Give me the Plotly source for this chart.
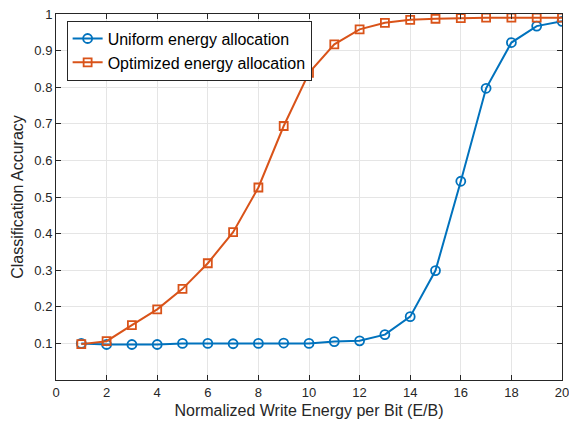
import plotly.graph_objects as go

# Normalized write energy per bit
energy = list(range(1, 21))

# Classification accuracy for each allocation scheme
acc_uniform = [0.100, 0.097, 0.097, 0.097, 0.100, 0.100, 0.099, 0.100, 0.101, 0.100,
               0.105, 0.107, 0.124, 0.173, 0.299, 0.543, 0.797, 0.922, 0.967, 0.980]
acc_optimized = [0.098, 0.106, 0.150, 0.193, 0.249, 0.319, 0.404, 0.526, 0.694, 0.839,
                 0.917, 0.958, 0.976, 0.984, 0.987, 0.989, 0.990, 0.990, 0.990, 0.990]

x_ticks = list(range(0, 21, 2))
y_ticks = [0.1, 0.2, 0.3, 0.4, 0.5, 0.6, 0.7, 0.8, 0.9, 1.0]
y_tick_text = ["0.1", "0.2", "0.3", "0.4", "0.5", "0.6", "0.7", "0.8", "0.9", "1"]

BLUE = "#0072BD"
ORANGE = "#D95319"
FONT = "Liberation Sans, Arial, sans-serif"
DARK = "#262626"

fig = go.Figure()
fig.add_trace(go.Scatter(
    x=energy, y=acc_uniform, mode="lines+markers",
    name="Uniform energy allocation",
    line=dict(color=BLUE, width=2),
    marker=dict(symbol="circle-open", size=9, color=BLUE, line=dict(width=1.8)),
))
fig.add_trace(go.Scatter(
    x=energy, y=acc_optimized, mode="lines+markers",
    name="Optimized energy allocation",
    line=dict(color=ORANGE, width=2),
    marker=dict(symbol="square-open", size=8, color=ORANGE, line=dict(width=1.8)),
))

axis_common = dict(
    showline=True, linecolor=DARK, linewidth=1, mirror="ticks",
    ticks="inside", ticklen=5, tickcolor=DARK, tickwidth=1,
    showgrid=True, gridcolor="#e5e5e5", gridwidth=1,
    zeroline=False, automargin=False, ticklabeloverflow="allow",
    tickfont=dict(family=FONT, size=13, color=DARK),
)

fig.update_xaxes(
    range=[0, 20], tickvals=x_ticks,
    title=dict(text="Normalized Write Energy per Bit (E/B)",
               font=dict(family=FONT, size=16, color=DARK), standoff=6),
    **axis_common,
)
fig.update_yaxes(
    range=[0, 1], tickvals=y_ticks, ticktext=y_tick_text,
    title=dict(text="Classification Accuracy",
               font=dict(family=FONT, size=16, color=DARK), standoff=6),
    **axis_common,
)

fig.update_layout(
    width=569, height=425,
    margin=dict(l=56, r=7, t=14, b=45),
    paper_bgcolor="white", plot_bgcolor="white",
    font=dict(family=FONT, color=DARK),
    legend=dict(
        x=0.021, y=0.982, xanchor="left", yanchor="top",
        bgcolor="white", bordercolor=DARK, borderwidth=1,
        font=dict(family=FONT, size=16, color="#000000"),
        tracegroupgap=0,
    ),
)

fig.write_html("out.html")
